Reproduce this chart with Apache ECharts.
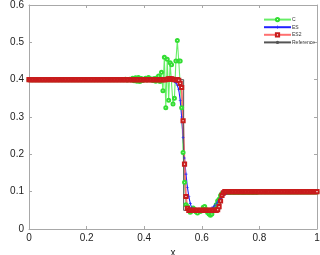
<!DOCTYPE html>
<html><head><meta charset="utf-8">
<script src="https://cdn.jsdelivr.net/npm/echarts@6/dist/echarts.min.js"></script>
<style>html,body{margin:0;padding:0;background:#fff}#c{width:320px;height:255px}</style>
</head><body><div id="c"></div>
<script>
var xs = [0,0.005,0.01,0.015,0.02,0.025,0.03,0.035,0.04,0.045,
0.05,0.055,0.06,0.065,0.07,0.075,0.08,0.085,0.09,0.095,
0.1,0.105,0.11,0.115,0.12,0.125,0.13,0.135,0.14,0.145,
0.15,0.155,0.16,0.165,0.17,0.175,0.18,0.185,0.19,0.195,
0.2,0.205,0.21,0.215,0.22,0.225,0.23,0.235,0.24,0.245,
0.25,0.255,0.26,0.265,0.27,0.275,0.28,0.285,0.29,0.295,
0.3,0.305,0.31,0.315,0.32,0.325,0.33,0.335,0.34,0.345,
0.35,0.355,0.36,0.365,0.37,0.375,0.38,0.385,0.39,0.395,
0.4,0.405,0.41,0.415,0.42,0.425,0.43,0.435,0.44,0.445,
0.45,0.455,0.46,0.465,0.47,0.475,0.48,0.485,0.49,0.495,
0.5,0.505,0.51,0.515,0.52,0.525,0.53,0.535,0.54,0.545,
0.55,0.555,0.56,0.565,0.57,0.575,0.58,0.585,0.59,0.595,
0.6,0.605,0.61,0.615,0.62,0.625,0.63,0.635,0.64,0.645,
0.65,0.655,0.66,0.665,0.67,0.675,0.68,0.685,0.69,0.695,
0.7,
0.705,0.71,0.715,0.72,0.725,0.73,0.735,0.74,0.745,
0.75,0.755,0.76,0.765,0.77,0.775,0.78,0.785,0.79,0.795,
0.8,0.805,0.81,0.815,0.82,0.825,0.83,0.835,0.84,0.845,
0.85,0.855,0.86,0.865,0.87,0.875,0.88,0.885,0.89,0.895,
0.9,0.905,0.91,0.915,0.92,0.925,0.93,0.935,0.94,0.945,
0.95,0.955,0.96,0.965,0.97,0.975,0.98,0.985,0.99,0.995,1];

var cVals = [0.4,0.4,0.4,0.4,0.4,0.4,0.4,0.4,0.4,0.4,
0.4,0.4,0.4,0.4,0.4,0.4,0.4,0.4,0.4,0.4,
0.4,0.4,0.4,0.4,0.4,0.4,0.4,0.4,0.4,0.4,
0.4,0.4,0.4,0.4,0.4,0.4,0.4,0.4,0.4,0.4,
0.4,0.4,0.4,0.4,0.4,0.4,0.4,0.4,0.4,0.4,
0.4,0.4,0.4,0.4,0.4,0.4,0.4,0.4,0.4,0.4,
0.4,0.4,0.4,0.4,0.4,0.4,0.4,0.401,0.399,0.4,
0.401,0.399,0.404,0.397,0.405,0.396,0.406,0.395,0.403,0.398,
0.401,0.404,0.399,0.406,0.4,0.402,0.398,0.403,0.396,0.405,
0.41,0.395,0.42,0.37,0.46,0.325,0.455,0.345,0.445,0.44,
0.335,0.35,0.45,0.505,0.45,0.45,0.325,0.205,0.125,0.065,
0.06,0.052,0.045,0.048,0.056,0.052,0.046,0.043,0.05,0.047,
0.05,0.058,0.06,0.052,0.044,0.04,0.037,0.04,0.05,0.055,
0.065,0.075,0.08,0.09,0.095,0.097,0.098,0.099,0.098,0.098,
0.098,
0.099,0.098,0.098,0.099,0.098,0.098,0.099,0.098,0.098,
0.098,0.099,0.098,0.098,0.099,0.098,0.098,0.099,0.098,0.099,
0.099,0.099,0.099,0.099,0.099,0.099,0.099,0.099,0.099,0.099,
0.099,0.099,0.099,0.099,0.099,0.099,0.099,0.099,0.099,0.099,
0.099,0.099,0.099,0.099,0.099,0.099,0.099,0.099,0.099,0.099,
0.099,0.099,0.099,0.099,0.099,0.099,0.099,0.099,0.099,0.099,0.099];

var esVals = [0.4,0.4,0.4,0.4,0.4,0.4,0.4,0.4,0.4,0.4,
0.4,0.4,0.4,0.4,0.4,0.4,0.4,0.4,0.4,0.4,
0.4,0.4,0.4,0.4,0.4,0.4,0.4,0.4,0.4,0.4,
0.4,0.4,0.4,0.4,0.4,0.4,0.4,0.4,0.4,0.4,
0.4,0.4,0.4,0.4,0.4,0.4,0.4,0.4,0.4,0.4,
0.4,0.4,0.4,0.4,0.4,0.4,0.4,0.4,0.4,0.4,
0.4,0.4,0.4,0.4,0.4,0.4,0.4,0.4,0.4,0.4,
0.4,0.4,0.4,0.4,0.4,0.4,0.4,0.4,0.4,0.4,
0.4,0.4,0.4,0.4,0.4,0.4,0.4,0.4,0.4,0.4,
0.4,0.4,0.4,0.4,0.4,0.4,0.4,0.4,0.399,0.398,
0.397,0.395,0.392,0.385,0.373,0.345,0.3,0.245,0.19,0.147,
0.112,0.087,0.068,0.057,0.052,0.05,0.05,0.05,0.05,0.05,
0.05,0.05,0.05,0.05,0.05,0.051,0.053,0.056,0.059,0.063,
0.067,0.072,0.077,0.082,0.086,0.09,0.093,0.095,0.097,0.098,
0.099,
0.099,0.1,0.1,0.1,0.1,0.1,0.1,0.1,0.1,
0.1,0.1,0.1,0.1,0.1,0.1,0.1,0.1,0.1,0.1,
0.1,0.1,0.1,0.1,0.1,0.1,0.1,0.1,0.1,0.1,
0.1,0.1,0.1,0.1,0.1,0.1,0.1,0.1,0.1,0.1,
0.1,0.1,0.1,0.1,0.1,0.1,0.1,0.1,0.1,0.1,
0.1,0.1,0.1,0.1,0.1,0.1,0.1,0.1,0.1,0.1,0.1];

var es2Vals = [0.4,0.4,0.4,0.4,0.4,0.4,0.4,0.4,0.4,0.4,
0.4,0.4,0.4,0.4,0.4,0.4,0.4,0.4,0.4,0.4,
0.4,0.4,0.4,0.4,0.4,0.4,0.4,0.4,0.4,0.4,
0.4,0.4,0.4,0.4,0.4,0.4,0.4,0.4,0.4,0.4,
0.4,0.4,0.4,0.4,0.4,0.4,0.4,0.4,0.4,0.4,
0.4,0.4,0.4,0.4,0.4,0.4,0.4,0.4,0.4,0.4,
0.4,0.4,0.4,0.4,0.4,0.4,0.4,0.4,0.4,0.4,
0.4,0.4,0.4,0.4,0.4,0.4,0.4,0.4,0.4,0.4,
0.4,0.4,0.4,0.4,0.4,0.4,0.4,0.4,0.4,0.4,
0.4,0.4,0.4,0.4,0.4,0.4,0.401,0.402,0.402,0.402,
0.401,0.4,0.4,0.4,0.398,0.39,0.379,0.29,0.174,0.087,
0.055,0.05,0.05,0.05,0.05,0.05,0.05,0.05,0.05,0.05,
0.05,0.05,0.05,0.05,0.05,0.05,0.05,0.05,0.05,0.05,
0.05,0.052,0.06,0.075,0.09,0.097,0.1,0.1,0.1,0.1,
0.1,
0.1,0.1,0.1,0.1,0.1,0.1,0.1,0.1,0.1,
0.1,0.1,0.1,0.1,0.1,0.1,0.1,0.1,0.1,0.1,
0.1,0.1,0.1,0.1,0.1,0.1,0.1,0.1,0.1,0.1,
0.1,0.1,0.1,0.1,0.1,0.1,0.1,0.1,0.1,0.1,
0.1,0.1,0.1,0.1,0.1,0.1,0.1,0.1,0.1,0.1,
0.1,0.1,0.1,0.1,0.1,0.1,0.1,0.1,0.1,0.1,0.1];

var refX = [0,0.537,0.537,0.662,0.672,1];
var refY = [0.4,0.4,0.05,0.05,0.1,0.1];

var seriesNames = ['C','ES','ES2','Reference'];
var xTicks = ['0','0.2','0.4','0.6','0.8','1'];
var yTicks = ['0','0.1','0.2','0.3','0.4','0.5','0.6'];

function pairs(x, y){ return x.map(function(v,i){ return [v, y[i]]; }); }

var FONT = 'Liberation Sans';
var frame = '#a8a8a8';
var plus = 'path://M4,0h2v4h4v2h-4v4h-2v-4h-4v-2h4z';

var chart = echarts.init(document.getElementById('c'), null, {renderer:'canvas'});
function axisX(pos, show){
  return {type:'value', position:pos, min:0, max:1, interval:0.2,
    name: show ? 'x' : '', nameLocation:'middle', nameGap:18,
    nameTextStyle:{fontFamily:FONT, fontSize:10, color:'#222'},
    axisLine:{show:true, onZero:false, lineStyle:{color:frame, width:1}},
    axisTick:{show:true, inside:true, length:3, lineStyle:{color:frame}},
    axisLabel:{show:show, fontFamily:FONT, fontSize:10, color:'#222', margin:4,
      formatter:function(v){ return xTicks[Math.round(v/0.2)]; }},
    splitLine:{show:false}};
}
function axisY(pos, show){
  return {type:'value', position:pos, min:0, max:0.6, interval:0.1,
    name: show ? 'b2' : '', nameLocation:'middle', nameGap:21, nameRotate:90,
    nameTextStyle:{fontFamily:FONT, fontSize:10, color:'#222'},
    axisLine:{show:true, onZero:false, lineStyle:{color:frame, width:1}},
    axisTick:{show:true, inside:true, length:3, lineStyle:{color:frame}},
    axisLabel:{show:show, fontFamily:FONT, fontSize:10, color:'#222', margin:5,
      formatter:function(v){ return yTicks[Math.round(v/0.1)]; }},
    splitLine:{show:false}};
}

chart.setOption({
  animation:false,
  backgroundColor:'#fff',
  grid:{left:29, right:3, top:5, bottom:26, containLabel:false, outerBoundsMode:'none'},
  xAxis:[axisX('bottom', true), axisX('top', false)],
  yAxis:[axisY('left', true), axisY('right', false)],
  legend:{orient:'vertical', left:258, top:12, itemWidth:27, itemHeight:4, itemGap:2.5,
    itemStyle:{borderWidth:0.8},
    textStyle:{fontFamily:FONT, fontSize:5, color:'#333', padding:[0,0,0,-4]},
    data:seriesNames},
  series:[
    {name:seriesNames[0], type:'line', data:pairs(xs,cVals), symbol:'emptyCircle', symbolSize:3,
      lineStyle:{color:'#66ee66', width:1.1}, itemStyle:{color:'#33dd33', borderColor:'#33dd33', borderWidth:0.9}},
    {name:seriesNames[1], type:'line', data:pairs(xs,esVals), symbol:plus, symbolSize:3,
      lineStyle:{color:'#2222ff', width:1.1}, itemStyle:{color:'#2222ff'}},
    {name:seriesNames[2], type:'line', data:pairs(xs,es2Vals), symbol:'emptyRect', symbolSize:3.2,
      lineStyle:{color:'#ff7070', width:1.8}, itemStyle:{color:'#c81c1c', borderColor:'#c81c1c', borderWidth:0.9}},
    {name:seriesNames[3], type:'line', data:pairs(refX,refY), symbol:'none',
      lineStyle:{color:'#555555', width:1}, itemStyle:{color:'#555555'}}
  ]
});
</script></body></html>
